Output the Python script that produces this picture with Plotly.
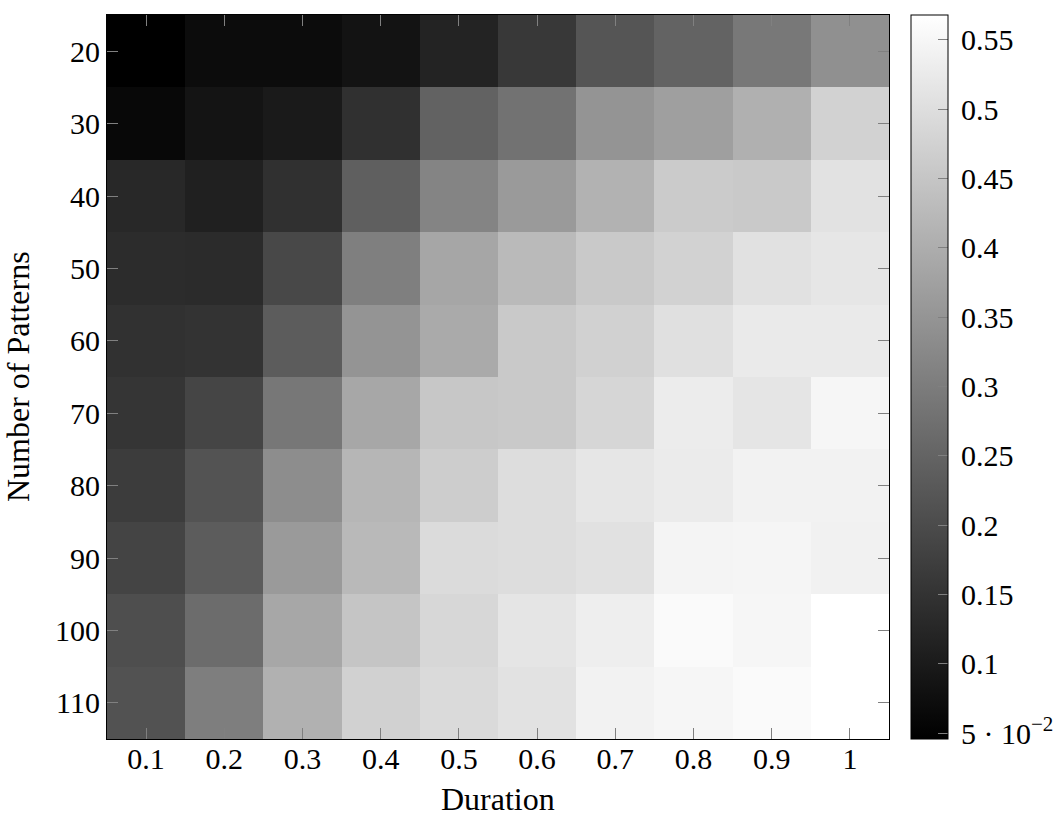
import plotly.graph_objects as go

durations = [0.1, 0.2, 0.3, 0.4, 0.5, 0.6, 0.7, 0.8, 0.9, 1.0]
duration_labels = ["0.1", "0.2", "0.3", "0.4", "0.5", "0.6", "0.7", "0.8", "0.9", "1"]
patterns = [20, 30, 40, 50, 60, 70, 80, 90, 100, 110]
pattern_labels = ["20", "30", "40", "50", "60", "70", "80", "90", "100", "110"]

row_20 = [0.046, 0.070, 0.070, 0.085, 0.117, 0.160, 0.220, 0.248, 0.291, 0.341]
row_30 = [0.062, 0.087, 0.099, 0.144, 0.246, 0.279, 0.349, 0.371, 0.406, 0.476]
row_40 = [0.128, 0.111, 0.144, 0.240, 0.316, 0.361, 0.410, 0.461, 0.457, 0.509]
row_50 = [0.136, 0.134, 0.193, 0.306, 0.386, 0.427, 0.457, 0.476, 0.506, 0.517]
row_60 = [0.146, 0.150, 0.234, 0.349, 0.394, 0.457, 0.474, 0.504, 0.525, 0.525]
row_70 = [0.154, 0.187, 0.289, 0.388, 0.453, 0.457, 0.484, 0.529, 0.515, 0.550]
row_80 = [0.169, 0.216, 0.334, 0.418, 0.466, 0.498, 0.517, 0.527, 0.541, 0.541]
row_90 = [0.185, 0.234, 0.361, 0.425, 0.494, 0.498, 0.506, 0.545, 0.547, 0.539]
row_100 = [0.205, 0.267, 0.388, 0.449, 0.486, 0.515, 0.533, 0.558, 0.550, 0.568]
row_110 = [0.214, 0.304, 0.408, 0.474, 0.492, 0.509, 0.541, 0.550, 0.558, 0.568]

z_values = [row_20, row_30, row_40, row_50, row_60, row_70, row_80, row_90, row_100, row_110]

cbar_ticks = [0.05, 0.1, 0.15, 0.2, 0.25, 0.3, 0.35, 0.4, 0.45, 0.5, 0.55]
cbar_labels = ["5 · 10<sup>−2</sup>", "0.1", "0.15", "0.2", "0.25", "0.3", "0.35", "0.4", "0.45", "0.5", "0.55"]
z_min = 0.0457
z_max = 0.568

x_title = "Duration"
y_title = "Number of Patterns"

FONT = "Liberation Serif"
FS = 30
TFS = 32

W, H = 1062, 813
PX0, PX1, PY0, PY1 = 107, 889, 15, 739   # plot area in pixels
L = PX0
T = PY0
R = W - PX1
B = H - PY1
plot_w = PX1 - PX0
plot_h = PY1 - PY0


def px_to_xpaper(px):
    return (px - PX0) / plot_w


def py_to_ypaper(py):
    return (PY1 - py) / plot_h


fig = go.Figure(
    go.Heatmap(
        x=durations,
        y=patterns,
        z=z_values,
        zmin=z_min,
        zmax=z_max,
        colorscale=[[0, "#000000"], [1, "#ffffff"]],
        xgap=0,
        ygap=0,
        colorbar=dict(
            thickness=37,
            thicknessmode="pixels",
            len=plot_h,
            lenmode="pixels",
            x=px_to_xpaper(911),
            xanchor="left",
            xpad=0,
            y=1,
            yanchor="top",
            ypad=0,
            outlinecolor="black",
            outlinewidth=1,
            tickvals=cbar_ticks,
            ticktext=["\u2009" + t for t in cbar_labels],
            ticks="inside",
            ticklen=10,
            tickcolor="#808080",
            tickfont=dict(family=FONT, size=FS, color="black"),
        ),
    )
)

axis_common = dict(
    showgrid=False,
    zeroline=False,
    showline=True,
    linecolor="black",
    linewidth=1,
    mirror="ticks",
    ticks="inside",
    ticklen=11,
    tickcolor="#808080",
    tickwidth=1,
    automargin=False,
    tickfont=dict(family=FONT, size=FS, color="black"),
)

fig.update_xaxes(
    tickvals=durations,
    ticktext=duration_labels,
    range=[0.05, 1.05],
    ticklabelstandoff=-7,
    **axis_common,
)
fig.update_yaxes(
    tickvals=patterns,
    ticktext=pattern_labels,
    range=[115, 15],
    **axis_common,
)

fig.add_annotation(
    text=x_title,
    xref="paper", yref="paper",
    x=0.5, y=py_to_ypaper(799),
    xanchor="center", yanchor="middle",
    showarrow=False,
    font=dict(family=FONT, size=TFS, color="black"),
)
fig.add_annotation(
    text=y_title,
    xref="paper", yref="paper",
    x=px_to_xpaper(18), y=py_to_ypaper((PY0 + PY1) / 2),
    xanchor="center", yanchor="middle",
    textangle=-90,
    showarrow=False,
    font=dict(family=FONT, size=TFS, color="black"),
)

fig.update_layout(
    width=W,
    height=H,
    margin=dict(l=L, r=R, t=T, b=B, pad=0, autoexpand=False),
    paper_bgcolor="white",
    plot_bgcolor="white",
    font=dict(family=FONT, size=FS, color="black"),
)

fig.write_html(
    "out.html",
    config={"displayModeBar": False},
    post_script="document.body.style.margin='0';document.body.style.overflow='hidden';",
)
